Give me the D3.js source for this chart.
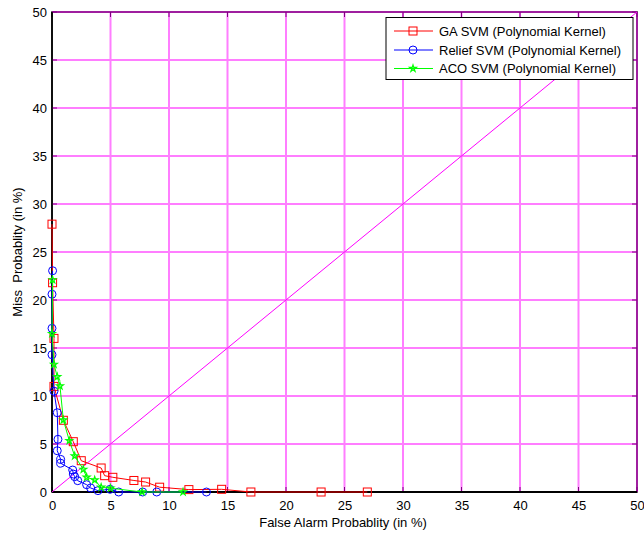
<!DOCTYPE html>
<html>
<head>
<meta charset="utf-8">
<script src="https://cdn.jsdelivr.net/npm/d3@7"></script>
<style>
  body { margin: 0; background: #fff; }
  text { font-family: "Liberation Sans", Arial, sans-serif; font-size: 13px; fill: #000; }
</style>
</head>
<body>
<script>
// ROC style curves
var ticks = [0, 5, 10, 15, 20, 25, 30, 35, 40, 45, 50];

var gaX = [0, 0.05, 0.17, 0.17, 0.97, 1.82, 2.5, 4.2, 4.5, 5.2, 7.0, 8.0, 9.2, 11.7, 14.5, 17.0, 23.0, 26.95];
var gaY = [27.9, 21.8, 16.0, 11.0, 7.47, 5.24, 3.26, 2.5, 1.7, 1.53, 1.2, 1.04, 0.5, 0.25, 0.28, 0, 0, 0];

var reliefX = [0.05, 0, 0, 0, 0.17, 0.45, 0.51, 0.45, 0.74, 0.74, 1.77, 1.82, 1.94, 2.2, 2.96, 3.3, 3.93, 4.96, 5.7, 7.75, 8.95, 13.2];
var reliefY = [23.05, 20.6, 17.05, 14.3, 10.5, 8.26, 5.49, 4.3, 3.4, 3.0, 2.29, 1.87, 1.6, 1.18, 0.76, 0.42, 0.14, 0.28, 0, 0, 0, 0];

var acoX = [0.05, 0, 0.17, 0.45, 0.68, 0.97, 1.48, 1.94, 2.68, 2.96, 3.65, 4.2, 5.0, 7.7, 11.2];
var acoY = [22.1, 16.5, 13.3, 12.0, 11.04, 7.5, 5.35, 3.75, 2.36, 1.53, 1.25, 0.49, 0.4, 0, 0];

var seriesNames = ["GA SVM (Polynomial Kernel)", "Relief SVM (Polynomial Kernel)", "ACO SVM (Polynomial Kernel)"];

function draw_chart() {
    var width = 644, height = 535;
    var left = 52, right = 637, top = 12, bottom = 492;

    var svg = d3.select("body").append("svg")
        .attr("width", width)
        .attr("height", height);

    var x = d3.scaleLinear().domain([0, 50]).range([left, right]);
    var y = d3.scaleLinear().domain([0, 50]).range([bottom, top]);

    // box
    svg.append("rect")
        .attr("x", left).attr("y", top)
        .attr("width", right - left).attr("height", bottom - top)
        .attr("fill", "none").attr("stroke", "#000").attr("stroke-width", 1.5);

    // inward tick marks on all sides
    var tk = svg.append("g").attr("stroke", "#000").attr("stroke-width", 1);
    ticks.forEach(function(t) {
        tk.append("line").attr("x1", x(t)).attr("x2", x(t)).attr("y1", bottom).attr("y2", bottom - 5);
        tk.append("line").attr("x1", x(t)).attr("x2", x(t)).attr("y1", top).attr("y2", top + 5);
        tk.append("line").attr("y1", y(t)).attr("y2", y(t)).attr("x1", left).attr("x2", left + 5);
        tk.append("line").attr("y1", y(t)).attr("y2", y(t)).attr("x1", right).attr("x2", right - 5);
    });

    // grid
    var grid = svg.append("g").attr("stroke", "#ff00ff").attr("stroke-width", 2).attr("opacity", 0.5);
    grid.selectAll(".gx").data(ticks.slice(1)).enter().append("line")
        .attr("x1", function(d) { return x(d); }).attr("x2", function(d) { return x(d); })
        .attr("y1", top).attr("y2", bottom);
    grid.selectAll(".gy").data(ticks.slice(1)).enter().append("line")
        .attr("y1", function(d) { return y(d); }).attr("y2", function(d) { return y(d); })
        .attr("x1", left).attr("x2", right);

    // left and bottom axis lines stay black
    svg.append("line").attr("x1", left).attr("x2", left).attr("y1", top).attr("y2", bottom)
        .attr("stroke", "#000").attr("stroke-width", 1.5);
    svg.append("line").attr("x1", left).attr("x2", right).attr("y1", bottom).attr("y2", bottom)
        .attr("stroke", "#000").attr("stroke-width", 2);

    // tick labels
    var xAxis = d3.axisBottom(x).tickValues(ticks).tickSize(0).tickPadding(9);
    svg.append("g").attr("transform", "translate(0," + bottom + ")").call(xAxis)
        .call(function(g) { g.select(".domain").remove(); })
        .selectAll("text").style("font-size", "13px").style("font-family", "Liberation Sans, Arial, sans-serif");
    var yAxis = d3.axisLeft(y).tickValues(ticks).tickSize(0).tickPadding(5);
    svg.append("g").attr("transform", "translate(" + left + ",0)").call(yAxis)
        .call(function(g) { g.select(".domain").remove(); })
        .selectAll("text").style("font-size", "13px").style("font-family", "Liberation Sans, Arial, sans-serif");

    // diagonal
    svg.append("line")
        .attr("x1", x(0)).attr("y1", y(0)).attr("x2", x(50)).attr("y2", y(50))
        .attr("stroke", "#ff00ff").attr("stroke-width", 1);

    // series
    var series = [
        { xs: gaX, ys: gaY, color: "#ff0000", marker: "square" },
        { xs: reliefX, ys: reliefY, color: "#0000ff", marker: "circle" },
        { xs: acoX, ys: acoY, color: "#00ff00", marker: "star" }
    ];

    var line = d3.line()
        .x(function(d) { return x(d[0]); })
        .y(function(d) { return y(d[1]); });

    function addMarker(g, px, py, s) {
        if (s.marker == "square") {
            g.append("rect").attr("x", px - 4).attr("y", py - 4).attr("width", 8).attr("height", 8)
                .attr("fill", "none").attr("stroke", s.color).attr("stroke-width", 1);
        } else if (s.marker == "circle") {
            g.append("circle").attr("cx", px).attr("cy", py).attr("r", 4)
                .attr("fill", "none").attr("stroke", s.color).attr("stroke-width", 1);
        } else {
            g.append("path").attr("d", d3.symbol().type(d3.symbolStar).size(14)())
                .attr("transform", "translate(" + px + "," + py + ")")
                .attr("fill", "none").attr("stroke", s.color).attr("stroke-width", 1.2);
        }
    }

    series.forEach(function(s) {
        var pts = s.xs.map(function(v, i) { return [v, s.ys[i]]; });
        var g = svg.append("g");
        g.append("path").datum(pts).attr("d", line)
            .attr("fill", "none").attr("stroke", s.color).attr("stroke-width", 1);
        pts.forEach(function(p) { addMarker(g, x(p[0]), y(p[1]), s); });
    });

    // legend
    var lg = svg.append("g");
    lg.append("rect").attr("x", 386).attr("y", 17.5).attr("width", 247).attr("height", 62)
        .attr("fill", "#fff").attr("stroke", "#000").attr("stroke-width", 1);
    var rows = [31, 50, 68.5];
    series.forEach(function(s, i) {
        lg.append("line").attr("x1", 394).attr("x2", 433).attr("y1", rows[i]).attr("y2", rows[i])
            .attr("stroke", s.color).attr("stroke-width", 1);
        addMarker(lg, 413, rows[i], s);
        lg.append("text").attr("x", 439).attr("y", rows[i] + 4.5).text(seriesNames[i]);
    });

    // axis titles
    svg.append("text").attr("x", 343).attr("y", 527).attr("text-anchor", "middle")
        .text("False Alarm Probablity (in %)");
    svg.append("text").attr("transform", "translate(22,252) rotate(-90)").attr("text-anchor", "middle")
        .style("white-space", "pre")
        .text("Miss  Probablity (in %)");
}

document.addEventListener("DOMContentLoaded", draw_chart());
</script>
</body>
</html>
